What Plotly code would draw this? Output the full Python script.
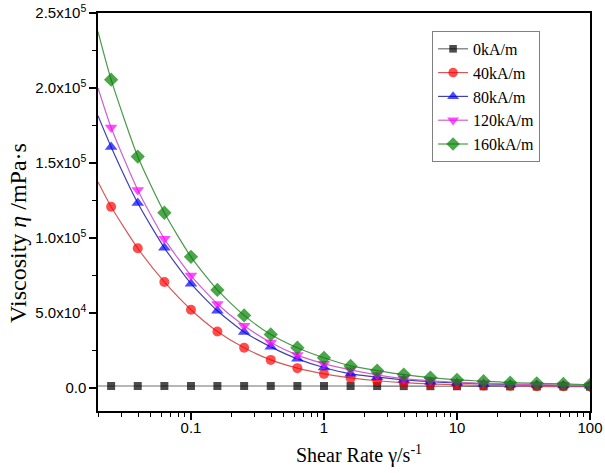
import plotly.graph_objects as go
import numpy as np

# Shear rate points (1/s)
shear_rate = [0.0251, 0.0398, 0.0631, 0.1, 0.158, 0.251, 0.398, 0.631, 1.0,
              1.585, 2.51, 3.98, 6.31, 10.0, 15.85, 25.1, 39.8, 63.1, 100.0]
x_start = 0.02  # fitted curve starts at left edge

names = ["0kA/m", "40kA/m", "80kA/m", "120kA/m", "160kA/m"]

visc_0 = [1100, 1100, 1100, 1100, 1100, 1100, 1100, 1100, 1100, 1100,
          1050, 1000, 950, 900, 850, 800, 750, 700, 650]
visc_40 = [120700, 93000, 70500, 52000, 37500, 26600, 18500, 13000, 9200,
           6500, 4600, 3300, 2500, 1900, 1500, 1200, 1000, 900, 800]
visc_80 = [160600, 123200, 93300, 69400, 51300, 37100, 27200, 19200, 13400,
           9200, 7000, 5200, 4000, 3100, 2500, 2000, 1700, 1400, 1200]
visc_120 = [173600, 131900, 99300, 74800, 55800, 41300, 30100, 21700, 16000,
            11800, 8500, 6000, 4600, 3600, 2900, 2400, 2000, 1700, 1500]
visc_160 = [205500, 154200, 116700, 87300, 65200, 48200, 35500, 26600, 19900,
            14500, 11400, 8700, 6700, 5200, 4300, 3300, 2900, 2500, 1900]

# curve values at the left edge (x_start)
visc_start = [1100, 137200, 181400, 200000, 237600]

series = [visc_0, visc_40, visc_80, visc_120, visc_160]
marker_colors = ["#000000", "#ff0000", "#0000ff", "#ff00ff", "#008000"]
line_colors = ["#707070", "#d45a5a", "#4040b0", "#d060d0", "#4a9a4a"]
symbols = ["square", "circle", "triangle-up", "triangle-down", "diamond"]
sizes = [8, 10, 11, 11, 11]

fig = go.Figure()
for i in range(5):
    xs = [x_start] + shear_rate
    ys = [visc_start[i]] + series[i]
    msize = [0] + [sizes[i]] * len(shear_rate)
    fig.add_trace(go.Scatter(
        x=xs, y=ys, name=names[i], mode="lines+markers",
        line=dict(color=line_colors[i], width=1.2, shape="spline", smoothing=0.6),
        marker=dict(symbol=symbols[i], color=marker_colors[i], size=msize,
                    line=dict(width=0)),
    ))

ytick_vals = [0, 50000, 100000, 150000, 200000, 250000]
ytick_text = ["0.0", "5.0x10<sup>4</sup>", "1.0x10<sup>5</sup>", "1.5x10<sup>5</sup>",
              "2.0x10<sup>5</sup>", "2.5x10<sup>5</sup>"]
y_minor = [25000, 75000, 125000, 175000, 225000]

xtick_vals = [0.1, 1, 10, 100]
xtick_text = ["0.1", "1", "10", "100"]
x_minor = [m * 10.0 ** d for d in range(-2, 2) for m in range(2, 10)]

fig.update_layout(
    width=605, height=473,
    margin=dict(l=98, r=15, t=13, b=62),
    plot_bgcolor="white", paper_bgcolor="white",
    showlegend=True,
    legend=dict(
        x=0.679, y=0.955, xanchor="left", yanchor="top",
        bordercolor="#808080", borderwidth=1, bgcolor="white",
        font=dict(family="Liberation Serif", size=16, color="black"),
        tracegroupgap=0, itemsizing="trace",
    ),
    xaxis=dict(
        type="log", range=[np.log10(x_start), 2], automargin=False,
        tickmode="array", tickvals=xtick_vals, ticktext=xtick_text,
        ticks="outside", ticklen=7, tickwidth=1.5, tickcolor="black",
        ticklabelstandoff=-5,
        minor=dict(tickmode="array", tickvals=x_minor, ticks="outside",
                   ticklen=4, tickwidth=1.2, tickcolor="black"),
        showline=True, linecolor="black", linewidth=1.5, mirror=True,
        showgrid=False, zeroline=False,
        tickfont=dict(family="Liberation Sans", size=15, color="black"),
    ),
    yaxis=dict(
        range=[-15600, 250000], automargin=False,
        tickmode="array", tickvals=ytick_vals, ticktext=ytick_text,
        ticks="outside", ticklen=7, tickwidth=1.5, tickcolor="black",
        minor=dict(tickmode="array", tickvals=y_minor, ticks="outside",
                   ticklen=4, tickwidth=1.2, tickcolor="black"),
        showline=True, linecolor="black", linewidth=1.5, mirror=True,
        showgrid=False, zeroline=False,
        tickfont=dict(family="Liberation Sans", size=15, color="black"),
    ),
    annotations=[
        dict(text="Shear Rate \u03b3/s<sup>-1</sup>", xref="paper", yref="paper",
             x=0.531, y=-0.11, xanchor="center", yanchor="middle", showarrow=False,
             font=dict(family="Liberation Serif", size=20, color="black")),
        dict(text="Viscosity <i>\u03b7</i> /mPa\u00b7s", xref="paper", yref="paper",
             x=-0.163, y=0.447, xanchor="center", yanchor="middle", showarrow=False,
             textangle=-90,
             font=dict(family="Liberation Serif", size=24, color="black")),
    ],
)

fig.write_html("out.html")
